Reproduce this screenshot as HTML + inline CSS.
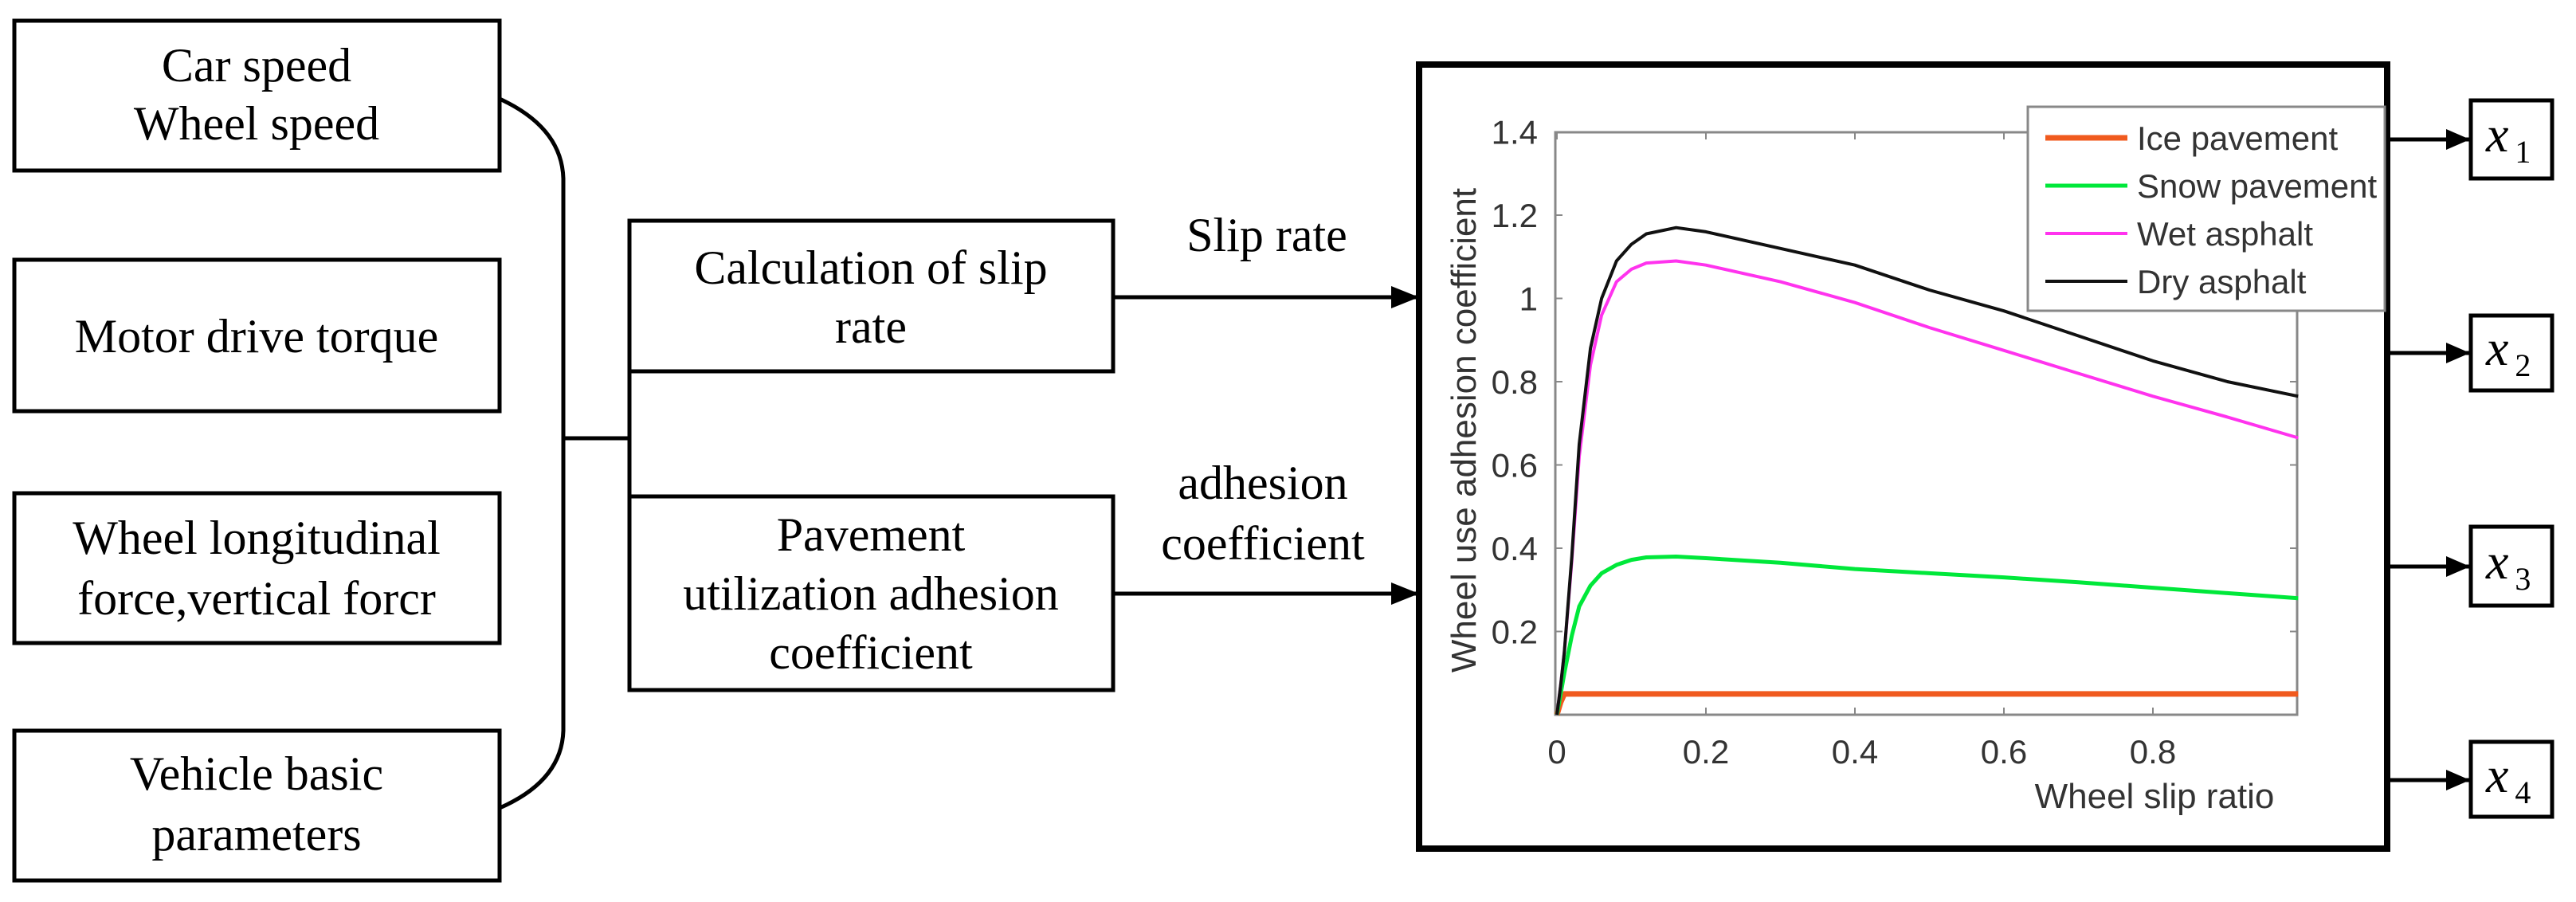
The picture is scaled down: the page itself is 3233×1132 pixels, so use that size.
<!DOCTYPE html>
<html><head><meta charset="utf-8"><style>
html,body{margin:0;padding:0;background:#fff;}
svg{display:block;}
.serif{font-family:"Liberation Serif",serif;fill:#000;}
.sans{font-family:"Liberation Sans",sans-serif;fill:#333;}
</style></head><body>
<svg id="fig" width="3233" height="1132" viewBox="0 0 3233 1132" xmlns="http://www.w3.org/2000/svg">
<defs>
<marker id="ah" markerWidth="10" markerHeight="8" refX="10" refY="4" orient="auto" markerUnits="userSpaceOnUse" viewBox="0 0 10 8" style="overflow:visible">
<path d="M0,0 L10,4 L0,8 Z" fill="#000" transform="scale(4.2)"/>
</marker>
</defs>
<g stroke="#000" stroke-width="5" fill="none">
<rect x="18" y="26" width="609" height="188"/>
<rect x="18" y="326" width="609" height="190"/>
<rect x="18" y="619" width="609" height="188"/>
<rect x="18" y="917" width="609" height="188"/>
<path d="M627,124 Q705,160 707,224 L707,917 Q705,980 627,1014"/>
<path d="M707,550 L790,550 M790,466 L790,623"/>
<rect x="790" y="277" width="607" height="189"/>
<rect x="790" y="623" width="607" height="243"/>
<line x1="1397" y1="373" x2="1778" y2="373"/>
<line x1="1397" y1="745" x2="1778" y2="745"/>
<rect x="1781" y="81" width="1215" height="984" stroke-width="8"/>
<line x1="2996" y1="175" x2="3100" y2="175"/>
<line x1="2996" y1="443" x2="3100" y2="443"/>
<line x1="2996" y1="711" x2="3100" y2="711"/>
<line x1="2996" y1="979" x2="3100" y2="979"/>
<rect x="3101" y="126" width="102" height="98"/>
<rect x="3101" y="396" width="102" height="94"/>
<rect x="3101" y="661" width="102" height="99"/>
<rect x="3101" y="931" width="102" height="94"/>
</g>
<g fill="#000">
<path d="M1746,359 L1781,373 L1746,387 Z"/><path d="M1746,731 L1781,745 L1746,759 Z"/>
<path d="M3070,162 L3100,175 L3070,188 Z"/><path d="M3070,430 L3100,443 L3070,456 Z"/>
<path d="M3070,698 L3100,711 L3070,724 Z"/><path d="M3070,966 L3100,979 L3070,992 Z"/>
</g>
<g class="serif" font-size="60" text-anchor="middle">
<text x="322" y="102">Car speed</text>
<text x="322" y="175">Wheel speed</text>
<text x="322" y="442">Motor drive torque</text>
<text x="322" y="695">Wheel longitudinal</text>
<text x="322" y="771">force,vertical forcr</text>
<text x="322" y="991">Vehicle basic</text>
<text x="322" y="1067">parameters</text>
<text x="1093" y="356">Calculation of slip</text>
<text x="1093" y="430">rate</text>
<text x="1093" y="691">Pavement</text>
<text x="1093" y="765">utilization adhesion</text>
<text x="1093" y="839">coefficient</text>
<text x="1590" y="315">Slip rate</text>
<text x="1585" y="626">adhesion</text>
<text x="1585" y="702">coefficient</text>
</g>
<g class="serif" font-style="italic" font-size="64">
<text x="3120" y="190">x<tspan font-style="normal" font-size="40" dx="8" dy="14">1</tspan></text>
<text x="3120" y="458">x<tspan font-style="normal" font-size="40" dx="8" dy="14">2</tspan></text>
<text x="3120" y="726">x<tspan font-style="normal" font-size="40" dx="8" dy="14">3</tspan></text>
<text x="3120" y="994">x<tspan font-style="normal" font-size="40" dx="8" dy="14">4</tspan></text>
</g>
<g id="chart"></g>
</svg>
<script>
const slip = [0,0.005,0.01,0.02,0.03,0.045,0.06,0.08,0.1,0.12,0.16,0.2,0.3,0.4,0.5,0.6,0.7,0.8,0.9,0.995];
const drySeries = [0,0.07,0.15,0.38,0.65,0.88,1.0,1.09,1.13,1.155,1.17,1.16,1.12,1.08,1.02,0.97,0.91,0.85,0.80,0.765];
const wetSeries = [0,0.07,0.15,0.37,0.62,0.84,0.96,1.04,1.07,1.085,1.09,1.08,1.04,0.99,0.93,0.875,0.82,0.765,0.715,0.665];
const snowSeries = [0,0.05,0.10,0.19,0.26,0.31,0.34,0.36,0.372,0.378,0.38,0.376,0.365,0.35,0.34,0.33,0.318,0.305,0.292,0.28];
const iceSeries = [0,0.03,0.05,0.05,0.05,0.05,0.05,0.05,0.05,0.05,0.05,0.05,0.05,0.05,0.05,0.05,0.05,0.05,0.05,0.05];
const xTicks = [0,0.2,0.4,0.6,0.8];
const xTickLabels = ["0","0.2","0.4","0.6","0.8"];
const yTicks = [0.2,0.4,0.6,0.8,1,1.2,1.4];
const yTickLabels = ["0.2","0.4","0.6","0.8","1","1.2","1.4"];
const seriesNames = ["Ice pavement","Snow pavement","Wet asphalt","Dry asphalt"];

const NS = "http://www.w3.org/2000/svg";
const g = document.getElementById("chart");
const X0 = 1954, XS = 935, Y0 = 897, YS = 522.5/1.0;
const L = 1952, R = 2883, T = 166, B = 897;
function sx(v){ return X0 + v*XS; }
function sy(v){ return Y0 - v*YS; }
function mk(tag, attrs){ const e = document.createElementNS(NS, tag); for (const k in attrs) e.setAttribute(k, attrs[k]); g.appendChild(e); return e; }

const axes = mk("rect", {x:L, y:T, width:R-L, height:B-T, fill:"none", stroke:"#888", "stroke-width":3});



xTicks.forEach((v,i)=>{
  mk("line", {x1:sx(v), x2:sx(v), y1:B, y2:B-9, stroke:"#888", "stroke-width":2});
  mk("line", {x1:sx(v), x2:sx(v), y1:T, y2:T+9, stroke:"#888", "stroke-width":2});
  const t = mk("text", {x:sx(v), y:958, "text-anchor":"middle", "font-size":42, class:"sans"});
  t.textContent = xTickLabels[i];
  
  
});
yTicks.forEach((v,i)=>{
  mk("line", {x1:L, x2:L+9, y1:sy(v), y2:sy(v), stroke:"#888", "stroke-width":2});
  mk("line", {x1:R, x2:R-9, y1:sy(v), y2:sy(v), stroke:"#888", "stroke-width":2});
  const t = mk("text", {x:1930, y:sy(v)+15, "text-anchor":"end", "font-size":42, class:"sans"});
  t.textContent = yTickLabels[i];
  
  
});
const xt = mk("text", {x:2704, y:1014, "text-anchor":"middle", "font-size":44, class:"sans"});
xt.textContent = "Wheel slip ratio";


const yt = mk("text", {x:0, y:0, "text-anchor":"middle", "font-size":44, class:"sans", transform:"translate(1852,540) rotate(-90)"});
yt.textContent = "Wheel use adhesion coefficient";



const allSeries = [iceSeries, snowSeries, wetSeries, drySeries];
const colors = ["#f05a1e","#00e83a","#ff33ee","#111111"];
const widths = [7,5,4,4];
const lineNames = ["ice-line","snow-line","wet-line","dry-line"];
allSeries.forEach((s,k)=>{
  const pts = s.map((v,i)=>sx(slip[i]).toFixed(1)+","+sy(v).toFixed(1)).join(" ");
  const p = mk("polyline", {points:pts, fill:"none", stroke:colors[k], "stroke-width":widths[k], "stroke-linejoin":"round"});
  
  
});

const lg = mk("rect", {x:2545, y:134, width:448, height:256, fill:"#fff", stroke:"#888", "stroke-width":3});


const ly = [173, 233, 293, 353];
seriesNames.forEach((n,k)=>{
  const ln = mk("line", {x1:2567, x2:2670, y1:ly[k], y2:ly[k], stroke:colors[k], "stroke-width":widths[k]});
  
  
  const t = mk("text", {x:2682, y:ly[k]+15, "font-size":42, class:"sans", fill:"#222"});
  t.textContent = n;
  
  
});
</script>
</body></html>
